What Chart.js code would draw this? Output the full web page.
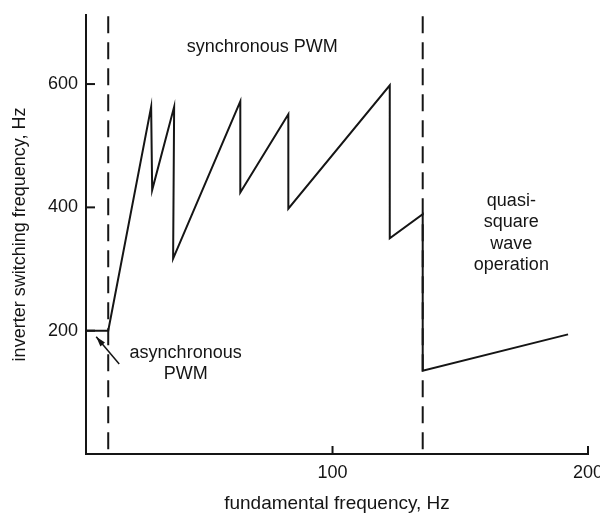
<!DOCTYPE html>
<html>
<head>
<meta charset="utf-8">
<script src="https://cdn.jsdelivr.net/npm/chart.js@4.4.0/dist/chart.umd.min.js"></script>
<style>
  html, body { margin: 0; padding: 0; background: #fff; }
  #wrap { width: 600px; height: 515px; }
</style>
</head>
<body>
<div id="wrap"><canvas id="chart"></canvas></div>
<script>
  'use strict';

  // ---- Data ----
  // fundamental frequency, Hz  /  inverter switching frequency, Hz
  const fundHz   = [3.5, 12.2, 29.0, 29.4, 38.0, 37.6, 63.9, 63.9, 82.7, 82.7, 122.4, 122.4, 135.3, 135.3, 192.2];
  const switchHz = [200, 200, 563, 428, 563, 317, 572, 424, 551, 398, 598, 350, 389, 135, 194];
  // region boundaries (dashed verticals)
  const boundaries = [12.2, 135.3];
  const xTicks = [100, 200];
  const yTicks = [200, 400, 600];
  const regionLabels = [
    { lines: ['synchronous PWM'], x: 72.5, y: 660 },
    { lines: ['asynchronous', 'PWM'], x: 42.5, y: 164 },
    { lines: ['quasi-', 'square', 'wave', 'operation'], x: 170, y: 411 }
  ];
  // pointer from the "asynchronous PWM" note to the curve
  const pointerX = [7.5, 16.5];
  const pointerY = [190, 146];

  const X_MIN = 3.5, X_MAX = 200, Y_MIN = 0, Y_MAX = 712;
  const INK = '#151515';
  const FONT = "'Liberation Sans', Arial, sans-serif";

  const curve = fundHz.map((x, i) => ({ x, y: switchHz[i] }));
  const boundarySets = boundaries.map(b => ({
    data: [{ x: b, y: Y_MAX - 2 }, { x: b, y: Y_MIN }],
    showLine: true,
    borderColor: INK,
    borderWidth: 2,
    borderDash: [17, 9],
    pointRadius: 0,
    clip: false
  }));

  // ---- Annotations: inward ticks, region notes, arrow head ----
  const annotate = {
    id: 'annotate',
    afterDatasetsDraw(chart) {
      const { ctx, scales: { x, y }, chartArea } = chart;
      ctx.save();
      ctx.strokeStyle = INK;
      ctx.lineWidth = 2;
      yTicks.forEach(v => {
        const py = y.getPixelForValue(v);
        ctx.beginPath();
        ctx.moveTo(chartArea.left, py);
        ctx.lineTo(chartArea.left + 9, py);
        ctx.stroke();
      });
      xTicks.forEach(v => {
        const px = x.getPixelForValue(v);
        ctx.beginPath();
        ctx.moveTo(px, chartArea.bottom);
        ctx.lineTo(px, chartArea.bottom - 8);
        ctx.stroke();
      });

      ctx.fillStyle = INK;
      ctx.font = '18px ' + FONT;
      ctx.textAlign = 'center';
      ctx.textBaseline = 'middle';
      regionLabels.forEach(lbl => {
        const px = x.getPixelForValue(lbl.x);
        const py = y.getPixelForValue(lbl.y);
        lbl.lines.forEach((t, i) => ctx.fillText(t, px, py + i * 21.5));
      });

      // arrow head at the start of the pointer
      const ax = x.getPixelForValue(pointerX[0]), ay = y.getPixelForValue(pointerY[0]);
      const bx = x.getPixelForValue(pointerX[1]), by = y.getPixelForValue(pointerY[1]);
      const ang = Math.atan2(ay - by, ax - bx);
      ctx.beginPath();
      ctx.moveTo(ax, ay);
      ctx.lineTo(ax - 10 * Math.cos(ang) + 3 * Math.sin(ang), ay - 10 * Math.sin(ang) - 3 * Math.cos(ang));
      ctx.lineTo(ax - 10 * Math.cos(ang) - 3 * Math.sin(ang), ay - 10 * Math.sin(ang) + 3 * Math.cos(ang));
      ctx.closePath();
      ctx.fill();
      ctx.restore();
    }
  };

  new Chart(document.getElementById('chart'), {
    type: 'scatter',
    data: {
      datasets: [
        ...boundarySets,
        {
          data: curve,
          showLine: true,
          borderColor: INK,
          borderWidth: 2,
          pointRadius: 0,
          tension: 0,
          clip: false
        },
        {
          data: pointerX.map((x, i) => ({ x, y: pointerY[i] })),
          showLine: true,
          borderColor: INK,
          borderWidth: 1.5,
          pointRadius: 0,
          clip: false
        }
      ]
    },
    options: {
      responsive: true,
      maintainAspectRatio: false,
      animation: false,
      layout: { padding: { top: 15, right: 12, bottom: 0, left: 0 } },
      plugins: { legend: { display: false }, tooltip: { enabled: false } },
      scales: {
        x: {
          type: 'linear',
          min: X_MIN,
          max: X_MAX,
          afterBuildTicks: s => { s.ticks = xTicks.map(v => ({ value: v })); },
          afterFit: s => { s.height = 61; s.paddingLeft = 0; s.paddingRight = 0; },
          grid: { display: false, drawTicks: false },
          border: { display: true, color: INK, width: 2 },
          ticks: { color: INK, font: { family: FONT, size: 18 }, padding: 8, maxRotation: 0 },
          title: {
            display: true,
            text: 'fundamental frequency, Hz',
            color: INK,
            font: { family: FONT, size: 19 },
            padding: { top: 0, bottom: 0 }
          }
        },
        y: {
          min: Y_MIN,
          max: Y_MAX,
          afterBuildTicks: s => { s.ticks = yTicks.map(v => ({ value: v })); },
          afterFit: s => { s.width = 86; s.paddingTop = 0; s.paddingBottom = 0; },
          grid: { display: false, drawTicks: false },
          border: { display: true, color: INK, width: 2 },
          ticks: { color: INK, font: { family: FONT, size: 18 }, padding: 8 },
          title: {
            display: true,
            text: 'inverter switching frequency, Hz',
            color: INK,
            font: { family: FONT, size: 18 },
            padding: { top: 9, bottom: 0 }
          }
        }
      }
    },
    plugins: [annotate]
  });
</script>
</body>
</html>
